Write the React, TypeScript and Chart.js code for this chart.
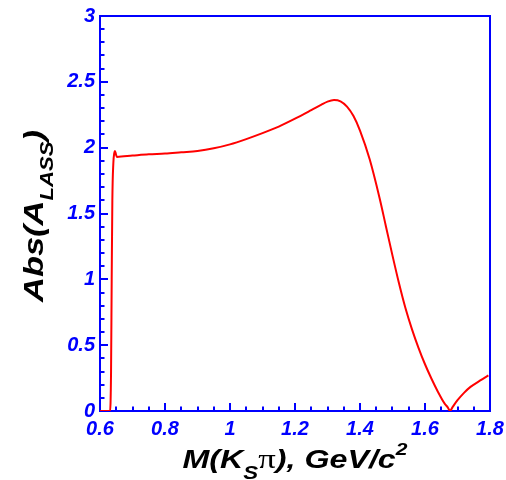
import React, { useEffect, useRef } from "react";
import { Chart, registerables } from "chart.js";

Chart.register(...registerables);

// Invariant mass M(K_S pi), GeV/c^2
const massValues: number[] = [
  0.6, 0.631, 0.634, 0.636, 0.638, 0.641, 0.644, 0.646, 0.649, 0.652,
  0.7, 0.75, 0.8, 0.85, 0.9, 0.95, 1.0, 1.05, 1.1, 1.15, 1.2, 1.25,
  1.28, 1.3, 1.32, 1.34, 1.36, 1.38, 1.4, 1.43, 1.46, 1.48, 1.5, 1.52,
  1.54, 1.56, 1.58, 1.6, 1.62, 1.64, 1.66, 1.67, 1.677, 1.684, 1.7,
  1.72, 1.74, 1.77, 1.795,
];
// |A_LASS|
const ampValues: number[] = [
  0, 0, 0.3, 1.0, 1.6, 1.88, 1.96, 1.975, 1.95, 1.93,
  1.94, 1.95, 1.955, 1.965, 1.975, 1.995, 2.025, 2.065, 2.11, 2.16, 2.22, 2.285,
  2.325, 2.35, 2.362, 2.352, 2.312, 2.24, 2.13, 1.91, 1.62, 1.4, 1.18, 0.97,
  0.78, 0.62, 0.48, 0.355, 0.245, 0.145, 0.058, 0.028, 0.0, 0.026, 0.082,
  0.138, 0.183, 0.232, 0.27,
];

const xMin = 0.6, xMax = 1.8, xMajor = 0.2, xMinor = 0.05;
const yMin = 0, yMax = 3, yMajor = 0.5, yMinor = 0.1;

const BLUE = "#0000ff";
const TICK_FONT = { family: "'Liberation Sans', Arial, sans-serif", size: 20, weight: "bold" as const, style: "italic" as const };
const TITLE_FAMILY = "'Liberation Sans', Arial, sans-serif";

type Part = { t: string; font: string; dy: number };

function drawParts(ctx: CanvasRenderingContext2D, parts: Part[], cx: number, baseY: number, target: number) {
  let total = 0;
  for (const p of parts) { ctx.font = p.font; total += ctx.measureText(p.t).width; }
  const s = target / total;
  ctx.save();
  ctx.translate(cx - target / 2, baseY);
  ctx.scale(s, 1);
  let x = 0;
  ctx.textAlign = "left";
  ctx.textBaseline = "alphabetic";
  for (const p of parts) {
    ctx.font = p.font;
    ctx.fillText(p.t, x, p.dy);
    x += ctx.measureText(p.t).width;
  }
  ctx.restore();
}

const framePlugin = {
  id: "rootFrame",
  beforeDatasetsDraw(chart: any) {
    const { ctx, chartArea: a, scales } = chart;
    const xs = scales.x, ys = scales.y;
    ctx.save();
    ctx.strokeStyle = BLUE;
    ctx.lineWidth = 2;
    ctx.strokeRect(a.left, a.top, a.right - a.left, a.bottom - a.top);
    const nx = Math.round((xMax - xMin) / xMinor);
    for (let i = 0; i <= nx; i++) {
      const v = xMin + i * xMinor;
      const px = Math.round(xs.getPixelForValue(v));
      const major = i % Math.round(xMajor / xMinor) === 0;
      const len = major ? 8 : 4.5;
      ctx.beginPath();
      ctx.moveTo(px, a.bottom);
      ctx.lineTo(px, a.bottom - len);
      ctx.stroke();
    }
    const ny = Math.round((yMax - yMin) / yMinor);
    for (let i = 0; i <= ny; i++) {
      const v = yMin + i * yMinor;
      const py = Math.round(ys.getPixelForValue(v));
      const major = i % Math.round(yMajor / yMinor) === 0;
      const len = major ? 8 : 4.5;
      ctx.beginPath();
      ctx.moveTo(a.left, py);
      ctx.lineTo(a.left + len, py);
      ctx.stroke();
    }
    ctx.restore();
  },
  afterDraw(chart: any) {
    const { ctx, chartArea: a } = chart;
    ctx.save();
    ctx.fillStyle = "#000000";
    const main = `italic bold 26px ${TITLE_FAMILY}`;
    const sub = `italic bold 18px ${TITLE_FAMILY}`;
    const sup = `italic bold 17px ${TITLE_FAMILY}`;
    const pi = `normal 28px 'Liberation Serif', 'Times New Roman', serif`;
    drawParts(ctx, [
      { t: "M(K", font: main, dy: 0 },
      { t: "S", font: sub, dy: 11 },
      { t: "π", font: pi, dy: 0 },
      { t: "), GeV/c", font: main, dy: 0 },
      { t: "2", font: sup, dy: -13 },
    ], (a.left + a.right) / 2, 468, 225);

    ctx.translate(43, 216);
    ctx.rotate(-Math.PI / 2);
    const ymain = `italic bold 28px ${TITLE_FAMILY}`;
    const ysub = `italic bold 18px ${TITLE_FAMILY}`;
    drawParts(ctx, [
      { t: "Abs(A", font: ymain, dy: 0 },
      { t: "LASS", font: ysub, dy: 10 },
      { t: ")", font: ymain, dy: 0 },
    ], 0, 0, 172);
    ctx.restore();
  },
};

const fmt = (v: number) => String(Number(Number(v).toFixed(2)));

const zeroPad = (s: any) => { s.paddingLeft = 0; s.paddingRight = 0; s.paddingTop = 0; s.paddingBottom = 0; };

export default function App() {
  const ref = useRef<HTMLCanvasElement | null>(null);
  useEffect(() => {
    if (!ref.current) return;
    const data = massValues.map((m, i) => ({ x: m, y: ampValues[i] }));
    const chart = new Chart(ref.current, {
      type: "line",
      data: {
        datasets: [{
          data,
          borderColor: "#ff0000",
          backgroundColor: "#ff0000",
          borderWidth: 2,
          pointRadius: 0,
          cubicInterpolationMode: "monotone",
          fill: false,
        }],
      },
      options: {
        animation: false,
        responsive: false,
        parsing: false as any,
        layout: { padding: { left: 0, right: 16, top: 16, bottom: 0 } },
        plugins: { legend: { display: false }, tooltip: { enabled: false }, title: { display: false } },
        scales: {
          x: {
            type: "linear",
            min: xMin,
            max: xMax,
            grid: { display: false, drawTicks: false },
            border: { display: false },
            ticks: { stepSize: xMajor, color: BLUE, font: TICK_FONT, padding: 6, maxRotation: 0, autoSkip: false, callback: (v: any) => fmt(v) },
            afterFit: (s: any) => { s.height = 69; zeroPad(s); },
          },
          y: {
            type: "linear",
            min: yMin,
            max: yMax,
            grid: { display: false, drawTicks: false },
            border: { display: false },
            ticks: { stepSize: yMajor, color: BLUE, font: TICK_FONT, padding: 5, autoSkip: false, callback: (v: any) => fmt(v) },
            afterFit: (s: any) => { s.width = 100; zeroPad(s); },
          },
        },
      },
      plugins: [framePlugin],
    });
    return () => chart.destroy();
  }, []);
  return (
    <div style={{ position: "fixed", left: 0, top: 0, width: 506, height: 480, background: "#fff" }}>
      <canvas ref={ref} width={506} height={480} style={{ display: "block" }} />
    </div>
  );
}
